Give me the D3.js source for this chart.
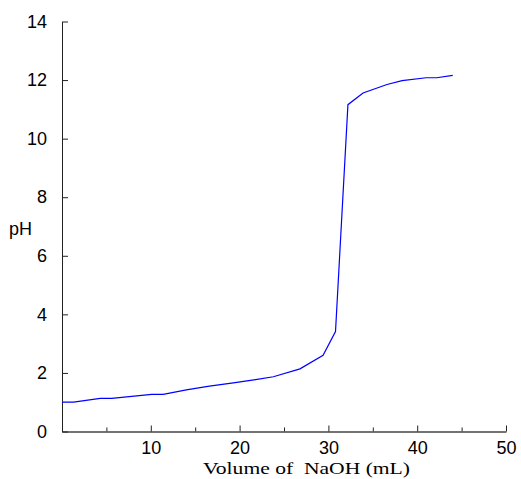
<!DOCTYPE html>
<html>
<head>
<meta charset="utf-8">
<script src="https://cdn.jsdelivr.net/npm/d3@7"></script>
<style>
  body { margin: 0; background: #fff; }
  .tick text { font-family: "Liberation Sans", Arial, sans-serif; font-size: 18px; fill: #000; }
</style>
</head>
<body>
<div id="chart"></div>
<script>
'use strict';

// titration curve
const volume = [0, 1.3, 4.3, 5.6, 10.1, 11.4, 14.0, 16.6, 19.3, 21.8, 23.8, 26.8, 29.4, 30.8, 32.2, 33.9, 36.6, 38.3, 41.0, 42.2, 44.0];
const pH = [1.0, 1.0, 1.13, 1.13, 1.27, 1.27, 1.42, 1.55, 1.66, 1.77, 1.87, 2.14, 2.6, 3.41, 11.16, 11.56, 11.85, 11.98, 12.08, 12.08, 12.16];
const xTicks = [10, 20, 30, 40, 50];
const xMinorTicks = [0, 5, 15, 25, 35, 45];
const yTicks = [0, 2, 4, 6, 8, 10, 12, 14];

const msm = {
  width: 521,
  height: 479,
  left: 62,
  right: 506,
  top: 21.5,
  bottom: 431.5
};

const svg = d3.select('#chart')
  .append('svg')
  .attr('width', msm.width)
  .attr('height', msm.height);

const xScale = d3.scaleLinear()
  .domain([0, 50])
  .range([msm.left, msm.right]);

const yScale = d3.scaleLinear()
  .domain([0, 14])
  .range([msm.bottom, msm.top]);

// x axis, ticks pointing up into the plot
svg.append('g')
  .attr('transform', 'translate(0,' + msm.bottom + ')')
  .call(d3.axisTop(xScale).tickValues(xMinorTicks).tickSize(4).tickFormat(''))
  .call(g => g.select('.domain').remove())
  .selectAll('line').attr('stroke', '#222');

const xAxis = svg.append('g')
  .attr('transform', 'translate(0,' + msm.bottom + ')')
  .call(d3.axisTop(xScale).tickValues(xTicks).tickSize(6).tickSizeOuter(0));
xAxis.select('.domain').attr('stroke', '#444').attr('stroke-width', 1.5);
xAxis.selectAll('line').attr('stroke', '#222');
xAxis.selectAll('text').attr('y', 22.5).attr('dy', 0);

// y axis, ticks pointing right
const yAxis = svg.append('g')
  .attr('transform', 'translate(' + msm.left + ',0)')
  .call(d3.axisRight(yScale).tickValues(yTicks).tickSize(6).tickSizeOuter(0));
yAxis.select('.domain').attr('stroke', '#222');
yAxis.selectAll('line').attr('stroke', '#222');
yAxis.selectAll('text')
  .attr('x', -15)
  .attr('text-anchor', 'end');

// curve
const line = d3.line()
  .x((d, i) => xScale(volume[i]))
  .y((d, i) => yScale(pH[i]));

svg.append('path')
  .datum(pH)
  .attr('fill', 'none')
  .attr('stroke', '#0000ff')
  .attr('stroke-width', 1.2)
  .attr('d', line);

// labels
svg.append('text')
  .attr('x', 9)
  .attr('y', 235)
  .style('font-family', '"Liberation Sans", Arial, sans-serif')
  .style('font-size', '18px')
  .text('pH');

svg.append('text')
  .attr('x', 203)
  .attr('y', 474)
  .attr('textLength', 207)
  .attr('lengthAdjust', 'spacingAndGlyphs')
  .style('font-family', '"Liberation Serif", "Times New Roman", serif')
  .style('font-size', '17.5px')
  .style('white-space', 'pre')
  .text('Volume of  NaOH (mL)');
</script>
</body>
</html>
